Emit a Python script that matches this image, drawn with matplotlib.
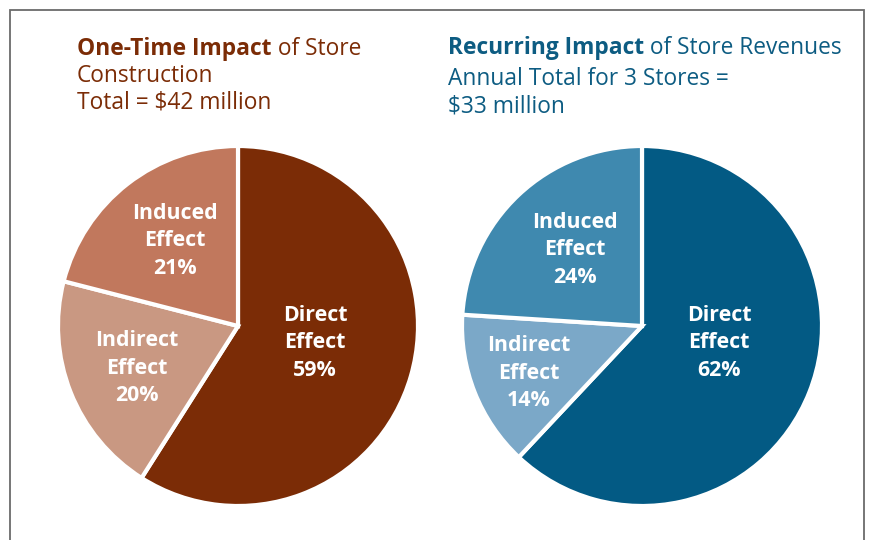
import matplotlib
matplotlib.use("Agg")
import matplotlib.pyplot as plt
from matplotlib.patches import Rectangle
import numpy as np

plt.rcParams['font.family'] = ['Open Sans', 'DejaVu Sans']

# data
labels = ["Direct\nEffect", "Indirect\nEffect", "Induced\nEffect"]
construction = [59, 20, 21]
revenues = [62, 14, 24]
brown_colors = ["#7B2C06", "#C99882", "#C1785D"]
blue_colors = ["#035A84", "#7BA8C8", "#3F89AF"]
title1_bold = "One-Time Impact"
title1_rest = [" of Store", "Construction", "Total = $42 million"]
title2_bold = "Recurring Impact"
title2_rest = [" of Store Revenues", "Annual Total for 3 Stores =", "$33 million"]

W, H = 869, 540
fig = plt.figure(figsize=(W / 100, H / 100), dpi=100)

# frame
fig.patches.append(Rectangle((10 / W, -0.1), 854 / W, 1.1 - 10 / H,
                             transform=fig.transFigure, fill=False,
                             edgecolor="#6b6b6b", linewidth=1.3))


def draw_pie(left_px, values, colors, dists, shifts):
    ax = fig.add_axes([left_px / W, 34 / H, 360 / W, 360 / H])
    wedges, _ = ax.pie(values, colors=colors, startangle=90, counterclock=False,
                       radius=1, wedgeprops=dict(edgecolor="white", linewidth=3))
    # label placement: distance from centre and angular nudge from mid-angle
    for w, lab, v, d, s in zip(wedges, labels, values, dists, shifts):
        ang = np.deg2rad((w.theta1 + w.theta2) / 2 + s)
        ax.text(d * np.cos(ang), d * np.sin(ang), f"{lab}\n{v}%",
                ha="center", va="center", color="white", fontsize=15.4,
                fontweight="bold", linespacing=1.43)
    ax.set_xlim(-1, 1)
    ax.set_ylim(-1, 1)
    ax.axis("off")


draw_pie(58, construction, brown_colors, [0.438, 0.608, 0.588], [3.8, 1.0, -1.3])
draw_pie(462, revenues, blue_colors, [0.438, 0.68, 0.563], [9.2, 1.0, -1.8])

renderer = fig.canvas.get_renderer()


def draw_title(x_px, baselines, bold, rest, color):
    t = fig.text(x_px / W, 1 - baselines[0] / H, bold, fontsize=16.4,
                 fontweight="bold", color=color, va="baseline")
    bb = t.get_window_extent(renderer)
    fig.text(bb.x1 / W, 1 - baselines[0] / H, rest[0], fontsize=16.4,
             color=color, va="baseline")
    for y, s in zip(baselines[1:], rest[1:]):
        fig.text(x_px / W, 1 - y / H, s, fontsize=16.4, color=color,
                 va="baseline")


draw_title(77, [55, 82, 109], title1_bold, title1_rest, "#7B2C06")
draw_title(448, [54, 85, 113], title2_bold, title2_rest, "#0D5C82")

fig.savefig("out.png", dpi=100)
